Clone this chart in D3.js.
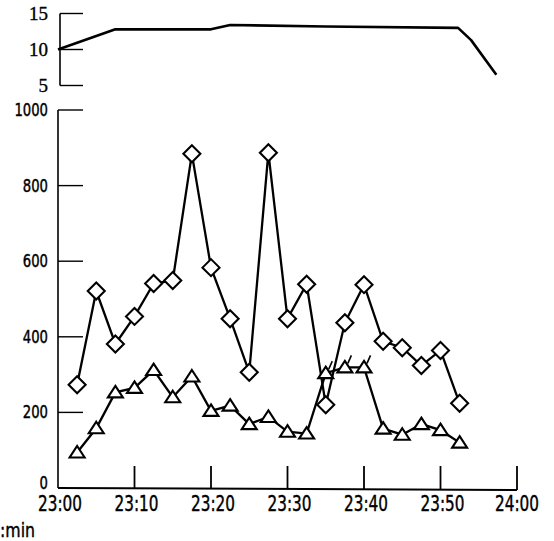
<!DOCTYPE html>
<html>
<head>
<meta charset="UTF-8">
<script src="https://d3js.org/d3.v7.min.js"></script>
<style>
  body { margin: 0; background: #fff; }
  svg { display: block; }
  .lbl { font-family: "DejaVu Sans", sans-serif; fill: #000; stroke: #000; stroke-width: 0.45; }
  .serif { font-family: "Liberation Serif", serif; fill: #000; stroke: #000; stroke-width: 0.35; }
</style>
</head>
<body>
<svg width="554" height="541"></svg>
<script>
// time in minutes after 23:00
const minutes = [2.5, 5, 7.5, 10, 12.5, 15, 17.5, 20, 22.5, 25, 27.5, 30, 32.5, 35, 37.5, 40, 42.5, 45, 47.5, 50, 52.5];
const diamonds = [273, 521, 381, 454, 541, 549, 884, 583, 448, 306, 887, 448, 539, 220, 437, 538, 388, 371, 324, 364, 224];
const triangles = [94, 158, 253, 265, 312, 240, 295, 204, 218, 169, 188, 149, 144, 304, 319, 319, 157, 141, 169, 153, 120];
const markedTimes = [35, 37.5, 40];

const topMinutes = [0, 7.5, 20, 22.5, 35, 52.3, 54, 57.3];
const topValues = [10, 12.8, 12.8, 13.4, 13.2, 13.0, 11.3, 6.5];

const xTicks = [0, 10, 20, 30, 40, 50, 60];
const xTickLabels = ["23:00", "23:10", "23:20", "23:30", "23:40", "23:50", "24:00"];
const yTicks = [0, 200, 400, 600, 800, 1000];
const topTicks = [5, 10, 15];

const svg = d3.select("svg");

const x = d3.scaleLinear().domain([0, 60]).range([58, 517]);
const y = d3.scaleLinear().domain([0, 1000]).range([488, 110]);
const yTop = d3.scaleLinear().domain([5, 15]).range([85.5, 13.5]);

// ---- top panel
const topAxisX = 60;
svg.append("line").attr("x1", topAxisX).attr("x2", topAxisX)
  .attr("y1", yTop(15)).attr("y2", yTop(5))
  .attr("stroke", "#000").attr("stroke-width", 1.6);
topTicks.forEach(t => {
  svg.append("line").attr("x1", topAxisX).attr("x2", 83)
    .attr("y1", yTop(t)).attr("y2", yTop(t))
    .attr("stroke", "#000").attr("stroke-width", 1.4);
  svg.append("text").attr("class", "serif")
    .attr("x", 48).attr("y", yTop(t)).attr("dy", "0.35em")
    .attr("text-anchor", "end").attr("font-size", 19)
    .text(t);
});

const topLine = d3.line().x((d, i) => x(topMinutes[i])).y(d => yTop(d));
svg.append("path").datum(topValues)
  .attr("d", topLine)
  .attr("fill", "none").attr("stroke", "#000").attr("stroke-width", 2.6)
  .attr("stroke-linejoin", "round");

// ---- bottom panel axes
svg.append("line").attr("x1", x(0)).attr("x2", x(0))
  .attr("y1", y(1000)).attr("y2", y(0))
  .attr("stroke", "#000").attr("stroke-width", 1.6);
svg.append("line").attr("x1", x(0)).attr("x2", x(60))
  .attr("y1", y(0)).attr("y2", y(0) + 2)
  .attr("stroke", "#000").attr("stroke-width", 2);

yTicks.forEach(t => {
  if (t > 0) {
    svg.append("line").attr("x1", x(0)).attr("x2", 83)
      .attr("y1", y(t)).attr("y2", y(t))
      .attr("stroke", "#000").attr("stroke-width", 1.4);
  }
  const s = String(t);
  svg.append("text").attr("class", "lbl")
    .attr("x", 48).attr("y", t === 0 ? y(t) - 5 : y(t)).attr("dy", "0.35em")
    .attr("text-anchor", "end").attr("font-size", 17)
    .attr("textLength", s.length * 8.4).attr("lengthAdjust", "spacingAndGlyphs")
    .text(s);
});

xTicks.forEach((t, i) => {
  if (t > 0) {
    svg.append("line").attr("x1", x(t)).attr("x2", x(t))
      .attr("y1", y(0) + t / 30).attr("y2", y(0) - 22)
      .attr("stroke", "#000").attr("stroke-width", 1.8);
  }
  svg.append("text").attr("class", "lbl")
    .attr("x", t === 60 ? x(t) : x(t) + 2).attr("y", 511)
    .attr("text-anchor", "middle").attr("font-size", 21)
    .attr("textLength", 44).attr("lengthAdjust", "spacingAndGlyphs")
    .text(xTickLabels[i]);
});

svg.append("text").attr("class", "lbl")
  .attr("x", 0).attr("y", 537)
  .attr("font-size", 20)
  .attr("textLength", 35).attr("lengthAdjust", "spacingAndGlyphs")
  .text(":min");

// ---- series
const line = d3.line().x((d, i) => x(minutes[i])).y(d => y(d));

svg.append("path").datum(diamonds).attr("d", line)
  .attr("fill", "none").attr("stroke", "#000").attr("stroke-width", 2.3);
svg.append("path").datum(triangles).attr("d", line)
  .attr("fill", "none").attr("stroke", "#000").attr("stroke-width", 2.3);

// small slash marks at flagged triangle points
svg.selectAll(".slash").data(markedTimes).enter().append("line")
  .attr("class", "slash")
  .attr("x1", d => x(d) + 3).attr("y1", d => y(triangles[minutes.indexOf(d)]) - 4)
  .attr("x2", d => x(d) + 6.5).attr("y2", d => y(triangles[minutes.indexOf(d)]) - 12)
  .attr("stroke", "#000").attr("stroke-width", 1.6);

svg.selectAll(".dia").data(diamonds).enter().append("path")
  .attr("class", "dia")
  .attr("transform", (d, i) => `translate(${x(minutes[i])},${y(d)})`)
  .attr("d", "M0,-8.5L8.5,0L0,8.5L-8.5,0Z")
  .attr("fill", "#fff").attr("stroke", "#000").attr("stroke-width", 2.1);

svg.selectAll(".tri").data(triangles).enter().append("path")
  .attr("class", "tri")
  .attr("transform", (d, i) => `translate(${x(minutes[i])},${y(d)})`)
  .attr("d", "M0,-6.5L7.5,5L-7.5,5Z")
  .attr("fill", "#fff").attr("stroke", "#000").attr("stroke-width", 2.1)
  .attr("stroke-linejoin", "miter");
</script>
</body>
</html>
